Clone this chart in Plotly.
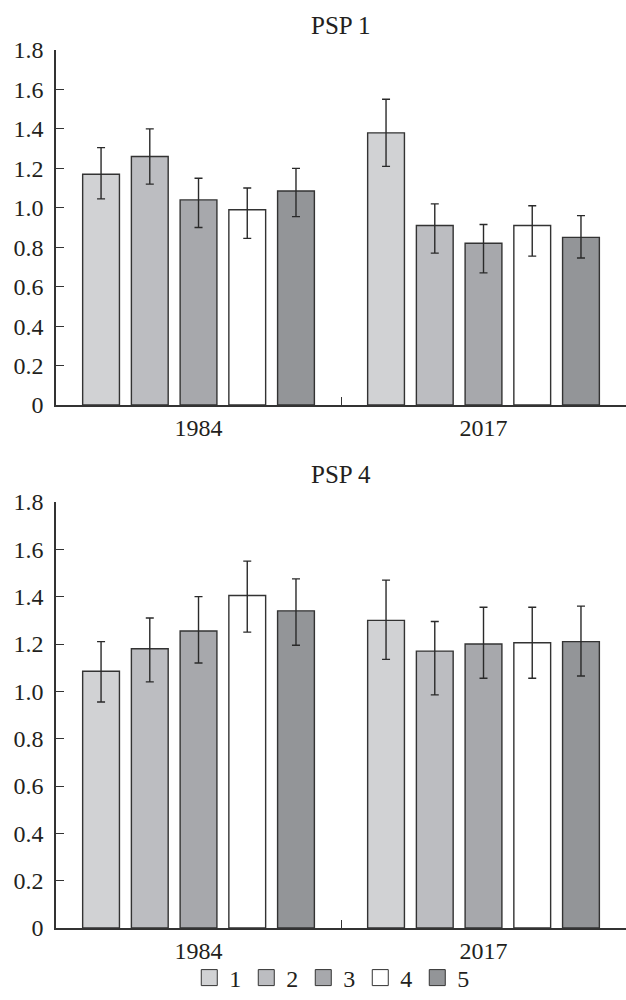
import plotly.graph_objects as go

# Years on the category axis and the five series
years = ["1984", "2017"]
series_names = ["1", "2", "3", "4", "5"]
series_colors = ["#d1d2d4", "#bcbdc1", "#a7a8ac", "#ffffff", "#939598"]

# PSP 1: means with upper / lower error bar ends
psp1_mean = [[1.17, 1.38], [1.26, 0.91], [1.04, 0.82], [0.99, 0.91], [1.085, 0.85]]
psp1_upper = [[1.305, 1.55], [1.40, 1.02], [1.15, 0.915], [1.10, 1.01], [1.20, 0.96]]
psp1_lower = [[1.045, 1.21], [1.12, 0.77], [0.90, 0.67], [0.845, 0.755], [0.955, 0.745]]

# PSP 4
psp4_mean = [[1.085, 1.30], [1.18, 1.17], [1.255, 1.20], [1.405, 1.205], [1.34, 1.21]]
psp4_upper = [[1.21, 1.47], [1.31, 1.295], [1.40, 1.355], [1.55, 1.355], [1.475, 1.36]]
psp4_lower = [[0.955, 1.135], [1.04, 0.985], [1.12, 1.055], [1.25, 1.055], [1.195, 1.065]]

y_tickvals = [0, 0.2, 0.4, 0.6, 0.8, 1.0, 1.2, 1.4, 1.6, 1.8]
y_ticktext = ["0", "0.2", "0.4", "0.6", "0.8", "1.0", "1.2", "1.4", "1.6", "1.8"]

FONT = "Liberation Serif"
INK = "#231f20"
AXIS = "#333333"
OUTLINE = "#333333"

fig = go.Figure()


def add_panel(means, uppers, lowers, xa, ya):
    for i, name in enumerate(series_names):
        m = means[i]
        up = [u - v for u, v in zip(uppers[i], m)]
        lo = [v - l for v, l in zip(m, lowers[i])]
        fig.add_trace(go.Bar(
            x=years, y=m, name=name,
            marker=dict(color=series_colors[i], line=dict(color=OUTLINE, width=1.4)),
            error_y=dict(type="data", symmetric=False, array=up, arrayminus=lo,
                         color="#2a2a2a", thickness=1.4, width=4),
            xaxis=xa, yaxis=ya, showlegend=False, legendgroup=name,
        ))


add_panel(psp1_mean, psp1_upper, psp1_lower, "x", "y")
add_panel(psp4_mean, psp4_upper, psp4_lower, "x2", "y2")

# legend entries with larger square swatches
for i, name in enumerate(series_names):
    fig.add_trace(go.Scatter(
        x=[None], y=[None], mode="markers", name=name, legendgroup=name,
        marker=dict(symbol="square", size=16, color=series_colors[i],
                    line=dict(color=OUTLINE, width=1)),
        xaxis="x2", yaxis="y2", showlegend=True,
    ))

x_common = dict(
    type="category", showline=True, linecolor=AXIS, linewidth=1.5,
    ticks="inside", tickson="boundaries", ticklen=8, tickcolor=AXIS, tickwidth=1.2,
    tickfont=dict(family=FONT, size=24, color=INK), showgrid=False, zeroline=False,
    ticklabelstandoff=0,
)
y_common = dict(
    range=[0, 1.8], showline=True, linecolor=AXIS, linewidth=1.5,
    ticks="inside", ticklen=8, tickcolor=AXIS, tickwidth=1.2,
    tickvals=y_tickvals, ticktext=y_ticktext,
    tickfont=dict(family=FONT, size=24, color=INK), showgrid=False, zeroline=False,
    ticklabelstandoff=6,
)

fig.update_layout(
    width=626, height=1000,
    margin=dict(l=0, r=0, t=0, b=0, autoexpand=False),
    paper_bgcolor="white", plot_bgcolor="white",
    barmode="group", bargap=0.145, bargroupgap=0.245,
    font=dict(family=FONT, size=24, color=INK),
    xaxis=dict(domain=[0.0895, 1.0], anchor="y", **x_common),
    yaxis=dict(domain=[0.595, 0.95], anchor="x", **y_common),
    xaxis2=dict(domain=[0.0895, 1.0], anchor="y2", **x_common),
    yaxis2=dict(domain=[0.072, 0.498], anchor="x2", **y_common),
    legend=dict(orientation="h", x=0.53, xanchor="center", y=0.022, yanchor="middle",
                font=dict(family=FONT, size=24, color=INK),
                itemwidth=30, tracegroupgap=0, bgcolor="rgba(0,0,0,0)"),
    annotations=[
        dict(text="PSP 1", x=0.5455, y=0.975, xref="paper", yref="paper",
             xanchor="center", yanchor="middle", showarrow=False,
             font=dict(family=FONT, size=25, color=INK)),
        dict(text="PSP 4", x=0.5455, y=0.5255, xref="paper", yref="paper",
             xanchor="center", yanchor="middle", showarrow=False,
             font=dict(family=FONT, size=25, color=INK)),
    ],
)

fig.write_html("out.html")
